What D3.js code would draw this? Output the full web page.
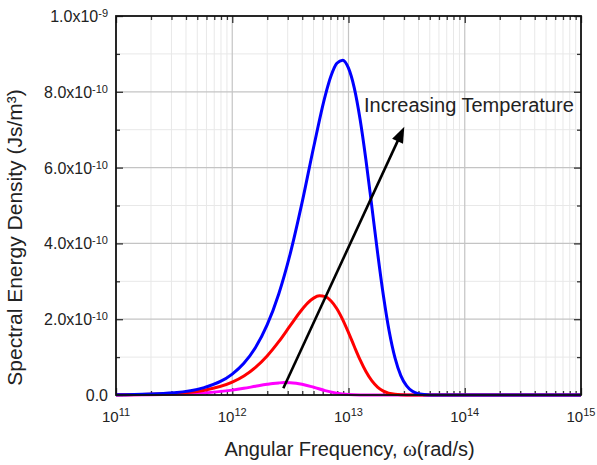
<!DOCTYPE html>
<html>
<head>
<meta charset="utf-8">
<script src="https://cdn.jsdelivr.net/npm/d3@7"></script>
<style>
  body { margin: 0; background: #fff; }
  text { font-family: "Liberation Sans", Arial, sans-serif; fill: #222; }
</style>
</head>
<body>
<div id="viz"></div>
<script>
// curves: [log10(omega), energy density in units of 1e-10 Js/m^3]
const blueCurve = [
  [11, 0.006], [11.5, 0.062], [11.75, 0.188], [12, 0.552], [12.1, 0.837], [12.2, 1.254],
  [12.3, 1.848], [12.4, 2.667], [12.5, 3.744], [12.6, 5.068], [12.7, 6.537], [12.8, 7.901],
  [12.85, 8.421], [12.9, 8.751], [12.95, 8.833], [13, 8.623], [13.05, 8.098], [13.1, 7.270],
  [13.15, 6.201], [13.2, 4.990], [13.25, 3.757], [13.3, 2.625], [13.35, 1.683], [13.4, 0.980],
  [13.45, 0.513], [13.5, 0.238], [13.55, 0.096], [13.6, 0.034], [13.7, 0.002], [14, 0], [15, 0]
];
const redCurve = [
  [11, 0.004], [11.5, 0.040], [11.75, 0.120], [12, 0.339], [12.1, 0.502], [12.2, 0.728],
  [12.3, 1.029], [12.4, 1.406], [12.5, 1.836], [12.6, 2.256], [12.65, 2.430], [12.7, 2.556],
  [12.75, 2.616], [12.8, 2.595], [12.85, 2.482], [12.9, 2.277], [12.95, 1.990], [13, 1.647],
  [13.05, 1.280], [13.1, 0.926], [13.15, 0.619], [13.2, 0.377], [13.25, 0.208], [13.3, 0.102],
  [13.4, 0.017], [13.5, 0.001], [14, 0], [15, 0]
];
const magentaCurve = [
  [11, 0.002], [11.5, 0.019], [11.75, 0.052], [12, 0.129], [12.1, 0.176], [12.2, 0.230],
  [12.3, 0.282], [12.35, 0.304], [12.4, 0.319], [12.45, 0.327], [12.5, 0.324], [12.55, 0.310],
  [12.6, 0.284], [12.7, 0.205], [12.8, 0.115], [12.9, 0.047], [13, 0.013], [13.1, 0.002],
  [13.2, 0], [14, 0], [15, 0]
];

const xTickExp = [11, 12, 13, 14, 15];
const yTickValues = [0, 2e-10, 4e-10, 6e-10, 8e-10, 1e-9];
const yTickMantissa = ['0.0', '2.0x10', '4.0x10', '6.0x10', '8.0x10', '1.0x10'];
const yTickExp = ['', '-10', '-10', '-10', '-10', '-9'];
const yMinorValues = [1e-10, 3e-10, 5e-10, 7e-10, 9e-10];

// annotation arrow and label, in data units
const arrowFrom = [2.75e12, 0.18e-10];
const arrowTo = [3.02e13, 7.08e-10];
const arrowLabel = 'Increasing Temperature';
const arrowLabelAt = [1.36e13, 7.47e-10];

let margin = { top: 16, right: 16, bottom: 70, left: 116 },
  W = 597, H = 465;

let x = d3.scaleLog().domain([1e11, 1e15]).range([margin.left, W - margin.right]);
let y = d3.scaleLinear().domain([0, 1e-9]).range([H - margin.bottom, margin.top]);

let svg = d3.select('#viz').append('svg')
  .attr('width', W)
  .attr('height', H);

let x0 = x.range()[0], x1 = x.range()[1], y0 = y.range()[0], y1 = y.range()[1];

// minor / major x values
let xMinor = [];
for (let e = 11; e < 15; e++) {
  for (let k = 2; k <= 9; k++) xMinor.push(k * Math.pow(10, e));
}
let xMajor = xTickExp.map(e => Math.pow(10, e));

let grid = svg.append('g');

grid.selectAll('.vminor').data(xMinor).enter().append('line')
  .attr('x1', d => x(d)).attr('x2', d => x(d))
  .attr('y1', y0).attr('y2', y1)
  .attr('stroke', '#e8e8e8').attr('stroke-width', 1);

grid.selectAll('.hminor').data(yMinorValues).enter().append('line')
  .attr('x1', x0).attr('x2', x1)
  .attr('y1', d => y(d)).attr('y2', d => y(d))
  .attr('stroke', '#e8e8e8').attr('stroke-width', 1);

grid.selectAll('.vmajor').data(xMajor.slice(1, -1)).enter().append('line')
  .attr('x1', d => x(d)).attr('x2', d => x(d))
  .attr('y1', y0).attr('y2', y1)
  .attr('stroke', '#c4c4c4').attr('stroke-width', 1.2);

grid.selectAll('.hmajor').data(yTickValues.slice(1, -1)).enter().append('line')
  .attr('x1', x0).attr('x2', x1)
  .attr('y1', d => y(d)).attr('y2', d => y(d))
  .attr('stroke', '#c4c4c4').attr('stroke-width', 1.2);

// inward ticks on all four sides
function ticks(axisFn, scale, values, size, pos) {
  let g = svg.append('g')
    .attr('transform', pos)
    .call(axisFn(scale).tickValues(values).tickSize(size).tickFormat(''));
  g.select('.domain').remove();
  g.selectAll('line').attr('stroke', '#333').attr('stroke-width', 1.3);
}
ticks(d3.axisBottom, x, xMinor, -4, `translate(0,${y0})`);
ticks(d3.axisBottom, x, xMajor, -7, `translate(0,${y0})`);
ticks(d3.axisTop, x, xMinor, -4, `translate(0,${y1})`);
ticks(d3.axisTop, x, xMajor, -7, `translate(0,${y1})`);
ticks(d3.axisLeft, y, yMinorValues, -4, `translate(${x0},0)`);
ticks(d3.axisLeft, y, yTickValues, -7, `translate(${x0},0)`);
ticks(d3.axisRight, y, yMinorValues, -4, `translate(${x1},0)`);
ticks(d3.axisRight, y, yTickValues, -7, `translate(${x1},0)`);

// curves
let line = d3.line()
  .x(d => x(Math.pow(10, d[0])))
  .y(d => y(d[1] * 1e-10))
  .curve(d3.curveMonotoneX);

let series = [
  { data: magentaCurve, color: '#ff00ff' },
  { data: redCurve, color: '#ff0000' },
  { data: blueCurve, color: '#0000ff' }
];

svg.append('g').selectAll('path').data(series).enter().append('path')
  .attr('d', d => line(d.data))
  .attr('fill', 'none')
  .attr('stroke', d => d.color)
  .attr('stroke-width', 3)
  .attr('stroke-linejoin', 'round');

// frame
svg.append('rect')
  .attr('x', x0).attr('y', y1)
  .attr('width', x1 - x0).attr('height', y0 - y1)
  .attr('fill', 'none')
  .attr('stroke', '#111')
  .attr('stroke-width', 1.8);

// arrow
let ax0 = x(arrowFrom[0]), ay0 = y(arrowFrom[1]);
let ax1 = x(arrowTo[0]), ay1 = y(arrowTo[1]);
let len = Math.hypot(ax1 - ax0, ay1 - ay0);
let ux = (ax1 - ax0) / len, uy = (ay1 - ay0) / len;
let headL = 16, headW = 6;
let bx = ax1 - ux * headL, by = ay1 - uy * headL;

svg.append('line')
  .attr('x1', ax0).attr('y1', ay0)
  .attr('x2', bx + ux * 2).attr('y2', by + uy * 2)
  .attr('stroke', '#000')
  .attr('stroke-width', 2.6);

svg.append('path')
  .attr('d', `M${ax1},${ay1}L${bx - uy * headW},${by + ux * headW}L${bx + uy * headW},${by - ux * headW}Z`)
  .attr('fill', '#000');

svg.append('text')
  .attr('x', x(arrowLabelAt[0]))
  .attr('y', y(arrowLabelAt[1]))
  .style('font-size', '20px')
  .text(arrowLabel);

// y tick labels
let yl = svg.append('g').selectAll('text').data(yTickValues).enter().append('text')
  .attr('x', x0 - 8)
  .attr('y', d => y(d) + 6)
  .attr('text-anchor', 'end')
  .style('font-size', '16px');
yl.append('tspan').text((d, i) => yTickMantissa[i]);
yl.append('tspan')
  .attr('dy', -5)
  .style('font-size', '11px')
  .text((d, i) => yTickExp[i]);

// x tick labels
let xl = svg.append('g').selectAll('text').data(xTickExp).enter().append('text')
  .attr('x', d => x(Math.pow(10, d)))
  .attr('y', y0 + 27)
  .attr('text-anchor', 'middle')
  .style('font-size', '15px');
xl.append('tspan').text('10');
xl.append('tspan')
  .attr('dy', -6)
  .style('font-size', '11px')
  .text(d => d);

// axis titles
let xt = svg.append('text')
  .attr('x', (x0 + x1) / 2 + 1)
  .attr('y', 456)
  .attr('text-anchor', 'middle')
  .style('font-size', '20px');
xt.append('tspan').text('Angular Frequency, ');
xt.append('tspan').style('font-family', '"Liberation Serif", serif').style('font-size', '21px').text('ω');
xt.append('tspan').text('(rad/s)');

svg.append('text')
  .attr('transform', `translate(22,${(y0 + y1) / 2 + 32}) rotate(-90)`)
  .attr('text-anchor', 'middle')
  .style('font-size', '21px')
  .text('Spectral Energy Density (Js/m³)');
</script>
</body>
</html>
